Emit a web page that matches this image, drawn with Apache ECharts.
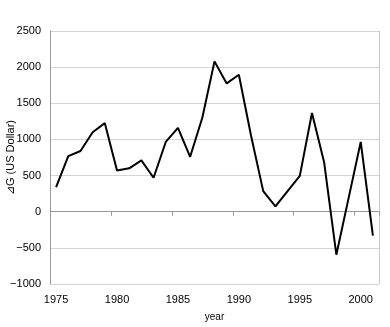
<!DOCTYPE html>
<html>
<head>
<meta charset="utf-8">
<script src="https://cdn.jsdelivr.net/npm/echarts@6/dist/echarts.min.js"></script>
<style>
  html, body { margin: 0; padding: 0; background: #fff; }
  #chart { width: 390px; height: 327px; }
</style>
</head>
<body>
<div id="chart"></div>
<script>
const years = [
  "1975", "1976", "1977", "1978", "1979", "1980", "1981", "1982", "1983",
  "1984", "1985", "1986", "1987", "1988", "1989", "1990", "1991", "1992",
  "1993", "1994", "1995", "1996", "1997", "1998", "1999", "2000", "2001",
];
const deltaG = [
  340, 770, 840, 1100, 1225, 570, 600, 710, 470,
  965, 1160, 760, 1300, 2080, 1775, 1895, 1050, 285,
  75, 285, 495, 1365, 680, -595, 185, 965, -330,
];

const chart = echarts.init(document.getElementById("chart"));
const font = "Liberation Sans, Arial, sans-serif";

const option = {
  animation: false,
  grid: { left: 50, right: 11, top: 31, bottom: 43, containLabel: false, outerBoundsMode: "none" },
  xAxis: {
    type: "category",
    data: years,
    boundaryGap: true,
    name: "year",
    nameLocation: "middle",
    nameGap: 28,
    nameMoveOverlap: false,
    nameTextStyle: { color: "#000", fontSize: 10, fontFamily: font },
    axisLine: { lineStyle: { color: "#999", width: 1 } },
    axisTick: { show: true, interval: 4, length: 4, lineStyle: { color: "#999" } },
    axisLabel: { interval: 4, color: "#000", fontSize: 11, fontFamily: font, margin: 10 },
    splitLine: { show: false },
  },
  yAxis: {
    type: "value",
    min: -1000,
    max: 2500,
    interval: 500,
    name: "⊿G (US Dollar)",
    nameLocation: "middle",
    nameRotate: 90,
    nameGap: 34,
    nameMoveOverlap: false,
    nameTextStyle: { color: "#000", fontSize: 11, fontFamily: font },
    axisLine: { show: true, lineStyle: { color: "#999", width: 1 } },
    axisTick: { show: false },
    axisLabel: {
      color: "#000",
      fontSize: 11,
      fontFamily: font,
      margin: 9,
      formatter: (v) => String(v).replace("-", "−"),
    },
    splitLine: { lineStyle: { color: "#d4d4d4", width: 1 } },
  },
  series: [
    {
      type: "line",
      data: deltaG,
      symbol: "none",
      lineStyle: { color: "#000", width: 2 },
    },
  ],
};

chart.setOption(option);

// right border of plot area
chart.setOption({
  graphic: [
    {
      type: "line",
      shape: { x1: 379.5, y1: 31, x2: 379.5, y2: 284 },
      style: { stroke: "#c8c8c8", lineWidth: 1 },
    },
  ],
});
</script>
</body>
</html>
